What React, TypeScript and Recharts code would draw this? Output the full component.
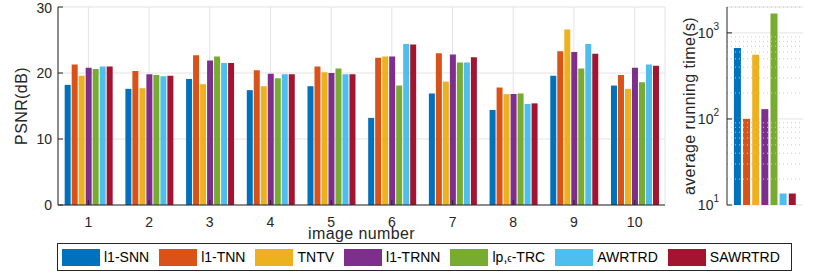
import { BarChart, Bar, XAxis, YAxis, CartesianGrid, Cell, ReferenceLine } from "recharts";

const images = ["1", "2", "3", "4", "5", "6", "7", "8", "9", "10"];
const methods = ["l1-SNN", "l1-TNN", "TNTV", "l1-TRNN", "lp,ϵ-TRC", "AWRTRD", "SAWRTRD"];
const seriesKeys = ["snn", "tnn", "tntv", "trnn", "lpe", "awrtrd", "sawrtrd"];
const colors = ["#0072BD", "#D95319", "#EDB120", "#7E2F8E", "#77AC30", "#4DBEEE", "#A2142F"];

// PSNR (dB) per image
const psnrSNN = [18.2, 17.6, 19.1, 17.4, 18.0, 13.2, 16.9, 14.4, 19.6, 18.1];
const psnrTNN = [21.3, 20.3, 22.7, 20.4, 21.0, 22.3, 23.0, 17.8, 23.3, 19.7];
const psnrTNTV = [19.6, 17.7, 18.3, 18.0, 20.1, 22.5, 18.7, 16.8, 26.6, 17.6];
const psnrTRNN = [20.8, 19.8, 21.9, 19.9, 20.0, 22.5, 22.8, 16.8, 23.2, 20.8];
const psnrLpe = [20.6, 19.7, 22.5, 19.2, 20.7, 18.1, 21.6, 16.9, 20.7, 18.6];
const psnrAWRTRD = [21.0, 19.5, 21.5, 19.8, 19.8, 24.4, 21.6, 15.3, 24.4, 21.3];
const psnrSAWRTRD = [21.0, 19.6, 21.5, 19.8, 19.8, 24.3, 22.4, 15.4, 22.9, 21.1];

// average running time (s)
const runTime = [667, 100, 557, 130, 1686, 13.6, 13.6];

const psnrTicks = [0, 10, 20, 30];
const timeTicks = [10, 100, 1000];
const timeMinor = [20, 30, 40, 50, 60, 70, 80, 90, 200, 300, 400, 500, 600, 700, 800, 900, 2000];

const allSeries = [psnrSNN, psnrTNN, psnrTNTV, psnrTRNN, psnrLpe, psnrAWRTRD, psnrSAWRTRD];
const psnrData = images.map((img, i) => {
  const row: any = { img };
  seriesKeys.forEach((k, s) => (row[k] = allSeries[s][i]));
  return row;
});
const timeData = methods.map((m, i) => ({ method: m, time: runTime[i] }));

const ink = "#262626";
const font = "'Liberation Sans', Arial, sans-serif";

const PowTick = ({ x, y, payload }: any) => {
  const exp = Math.round(Math.log10(payload.value));
  return (
    <text x={x} y={y} textAnchor="end" fill={ink} fontSize={14} dominantBaseline="central">
      10
      <tspan dy={-7} fontSize={10}>
        {exp}
      </tspan>
    </text>
  );
};

const rotLabel = (text: string, dx: number) => (props: any) => {
  const vb = props.viewBox;
  const cx = vb.x + dx;
  const cy = vb.y + vb.height / 2;
  return (
    <text
      x={cx}
      y={cy}
      transform={`rotate(-90 ${cx} ${cy})`}
      textAnchor="middle"
      dominantBaseline="central"
      fill={ink}
      fontSize={16}
      letterSpacing={0.4}
    >
      {text}
    </text>
  );
};

const LegendBox = () => (
  <div
    style={{
      position: "absolute",
      left: 57,
      top: 243,
      width: 729,
      height: 26,
      border: `1px solid ${ink}`,
      display: "flex",
      alignItems: "center",
      paddingLeft: 4,
      fontSize: 14,
      color: "#000",
      background: "#fff",
    }}
  >
    {methods.map((m, i) => (
      <div key={m} style={{ display: "flex", alignItems: "center", marginRight: 10 }}>
        <div style={{ width: 38, height: 17, background: colors[i], marginRight: 4 }} />
        <span style={{ whiteSpace: "nowrap" }}>
          {m.includes("ϵ") ? (
            <>
              lp,<span style={{ fontSize: 10 }}>ϵ</span>-TRC
            </>
          ) : (
            m
          )}
        </span>
      </div>
    ))}
  </div>
);

export default function App() {
  return (
    <div
      style={{
        position: "absolute",
        left: 0,
        top: 0,
        width: 830,
        height: 273,
        background: "#fff",
        fontFamily: font,
      }}
    >
      <div style={{ position: "absolute", left: 0, top: 0 }}>
        <BarChart
          width={680}
          height={245}
          data={psnrData}
          margin={{ top: 7, right: 15, bottom: 10, left: 0 }}
          barCategoryGap="11%"
          barGap={1}
        >
          <CartesianGrid stroke="#e3e3e3" />
          <XAxis
            dataKey="img"
            height={30}
            stroke={ink}
            tick={{ fill: ink, fontSize: 14 }}
            tickSize={-5}
            tickMargin={17}
            label={{
              value: "image number",
              position: "insideBottom",
              offset: -4,
              fill: ink,
              fontSize: 16,
              letterSpacing: 0.4,
            }}
          />
          <XAxis xAxisId="top" dataKey="img" orientation="top" height={0} stroke={ink} tick={false} tickSize={-5} />
          <YAxis
            width={58}
            domain={[0, 30]}
            ticks={psnrTicks}
            stroke={ink}
            tick={{ fill: ink, fontSize: 14 }}
            tickSize={-5}
            tickMargin={11}
            label={rotLabel("PSNR(dB)", 21)}
          />
          <YAxis
            yAxisId="r"
            orientation="right"
            width={0}
            domain={[0, 30]}
            ticks={psnrTicks}
            stroke={ink}
            tick={false}
            tickSize={-5}
          />
          {seriesKeys.map((k, i) => (
            <Bar key={k} dataKey={k} fill={colors[i]} isAnimationActive={false} />
          ))}
        </BarChart>
      </div>
      <div style={{ position: "absolute", left: 660, top: 0 }}>
        <BarChart
          width={170}
          height={245}
          data={timeData}
          margin={{ top: 7, right: 27, bottom: 40, left: 0 }}
          barCategoryGap="10%"
        >
          <CartesianGrid stroke="#e3e3e3" vertical={false} />
          {timeMinor.map((v) => (
            <ReferenceLine key={v} y={v} stroke="#c8c8c8" strokeDasharray="1 3" />
          ))}
          <XAxis
            dataKey="method"
            height={0}
            stroke={ink}
            tick={false}
            tickLine={false}
            padding={{ left: 6, right: 6 }}
          />
          <XAxis
            xAxisId="top"
            dataKey="method"
            orientation="top"
            height={0}
            stroke={ink}
            tick={false}
            tickLine={false}
            padding={{ left: 6, right: 6 }}
          />
          <YAxis
            width={67}
            scale="log"
            domain={[10, 2000]}
            ticks={timeTicks}
            allowDataOverflow
            stroke={ink}
            tick={<PowTick />}
            tickSize={-5}
            tickMargin={13}
            label={rotLabel("average running time(s)", 29)}
          />
          <YAxis
            yAxisId="lminor"
            width={0}
            scale="log"
            domain={[10, 2000]}
            ticks={timeMinor}
            allowDataOverflow
            axisLine={false}
            stroke={ink}
            tick={false}
            tickSize={-3}
          />
          <YAxis
            yAxisId="r"
            orientation="right"
            width={0}
            scale="log"
            domain={[10, 2000]}
            ticks={[...timeTicks, ...timeMinor]}
            allowDataOverflow
            stroke={ink}
            tick={false}
            tickSize={-3}
          />
          <Bar dataKey="time" isAnimationActive={false}>
            {timeData.map((d, i) => (
              <Cell key={d.method} fill={colors[i]} />
            ))}
          </Bar>
        </BarChart>
      </div>
      <LegendBox />
    </div>
  );
}
